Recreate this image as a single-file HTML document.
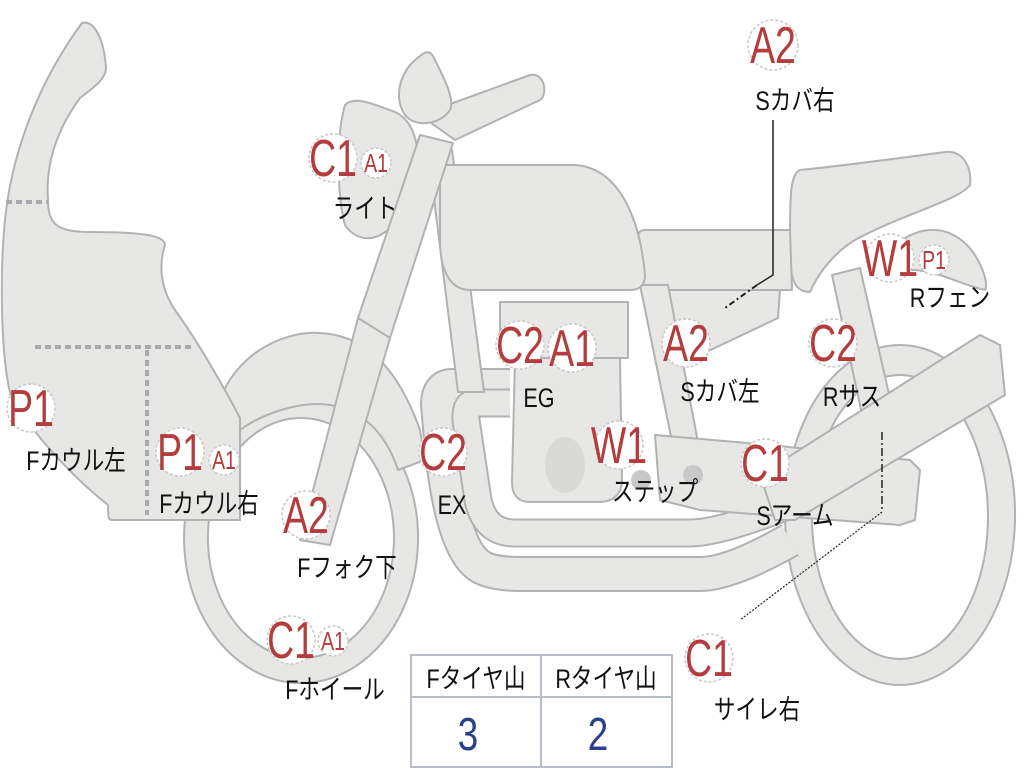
<!DOCTYPE html>
<html><head><meta charset="utf-8"><style>
html,body{margin:0;padding:0;background:#fff;}
svg{display:block}
.s{fill:#e7e7e5;stroke:#b2b2b2;stroke-width:2;stroke-linejoin:round}
text{font-family:"Liberation Sans","Noto Sans CJK JP",sans-serif;text-anchor:middle;transform-box:fill-box;transform-origin:center;}
.b{fill:#b43c3c;font-size:52px;transform:scaleX(.72)}
.m{fill:#b43c3c;font-size:26px;transform:scaleX(.75)}
.l{fill:#111;font-size:27px;transform:scaleX(.8)}
.c{fill:#fff;stroke:#c8c8c8;stroke-width:1.5;stroke-dasharray:3 2}
.v{fill:#2b3f8f;font-size:46px;transform:scaleX(.8)}
</style></head><body>
<svg width="1024" height="768" viewBox="0 0 1024 768" xmlns="http://www.w3.org/2000/svg">
<!-- rear wheel -->
<path class="s" fill-rule="evenodd" d="M900,345 a115,170 0 1,0 0.1,0 Z M900,375 a88,142 0 1,1 -0.1,0 Z"/>
<!-- front wheel -->
<path class="s" fill-rule="evenodd" d="M301,393 a117,145 0 1,0 0.1,0 Z M301,418 a93,120 0 1,1 -0.1,0 Z"/>
<!-- front fender -->
<path class="s" d="M215,420 C225,355 285,330 320,333 C360,335 395,360 420,430 L425,460 L398,470 C385,430 360,410 330,405 C300,400 260,415 240,430 Z"/>
<!-- cowl -->
<path class="s" d="M82,23 C95,20 104,40 106,68 C106,80 90,90 80,98 C60,125 45,160 48,200 C48,225 58,232 90,232 C140,232 165,235 165,245 C160,260 158,285 175,310 C200,345 220,380 240,418 L240,520 L112,520 C108,520 108,516 108,505 C70,475 35,435 12,400 C0,360 0,270 5,220 C12,150 40,80 82,23 Z"/>
<g stroke="#aaaaae" stroke-width="4" stroke-dasharray="6 4" fill="none">
<line x1="6" y1="202" x2="48" y2="202"/><line x1="35" y1="347" x2="192" y2="347"/><line x1="147" y1="350" x2="147" y2="515"/></g>
<!-- rear suspension -->
<polygon class="s" points="832,275 860,268 895,420 865,428"/>
<!-- rear fender -->
<path class="s" d="M890,250 C920,220 955,225 975,255 C985,272 988,285 985,290 C960,285 935,268 905,270 Z"/>
<!-- rear seat -->
<path class="s" d="M800,170 C850,165 900,158 945,152 C965,150 972,170 970,185 C960,200 900,215 855,240 C830,255 815,280 810,292 C790,292 790,270 790,240 C790,195 790,175 800,170 Z"/>
<!-- seat front / side panel -->
<path class="s" d="M645,230 L790,230 L792,290 L645,290 C640,290 638,285 638,280 L638,238 C638,232 641,230 645,230 Z"/>
<polygon class="s" points="668,290 780,290 778,318 700,355 675,345"/>
<!-- exhaust pipes -->
<path d="M510,386 L452,386 Q438,386 438,405 L442,450 Q452,545 478,565 Q490,574 520,574 L700,574 Q730,574 790,540" fill="none" stroke="#b2b2b2" stroke-width="36" stroke-linejoin="round"/>
<path d="M510,386 L452,386 Q438,386 438,405 L442,450 Q452,545 478,565 Q490,574 520,574 L700,574 Q730,574 790,540" fill="none" stroke="#e7e7e5" stroke-width="32" stroke-linejoin="round"/>
<path d="M510,403 L475,403 Q465,403 466,420 L478,500 Q485,533 515,533 L690,533 Q720,533 790,505" fill="none" stroke="#b2b2b2" stroke-width="29" stroke-linejoin="round"/>
<path d="M510,403 L475,403 Q465,403 466,420 L478,500 Q485,533 515,533 L690,533 Q720,533 790,505" fill="none" stroke="#e7e7e5" stroke-width="25" stroke-linejoin="round"/>
<!-- frame tube front -->
<polygon class="s" points="428,150 452,150 484,392 458,392"/>
<!-- engine -->
<path class="s" d="M500,302 L628,302 L628,358 L500,358 Z"/>
<path class="s" d="M515,358 L620,358 L622,480 C622,495 612,502 600,502 L530,502 C518,502 512,495 512,482 Z"/>
<ellipse cx="565" cy="465" rx="20" ry="28" fill="#d9d9d8"/>
<!-- rear frame tube -->
<polygon class="s" points="640,285 668,285 710,505 685,505"/>
<!-- step bar -->
<polygon class="s" points="655,435 770,445 910,460 920,470 915,520 900,525 700,510 660,500"/>
<circle cx="641" cy="480" r="10" fill="#c8c8c8"/><circle cx="693" cy="475" r="10" fill="#c8c8c8"/>
<!-- swingarm -->
<polygon class="s" points="760,475 980,335 1000,345 1005,395 795,520 775,520"/>
<!-- tank -->
<path class="s" d="M445,165 L575,165 C620,168 640,220 645,275 C645,285 640,290 630,290 L470,290 C450,290 440,270 440,240 L440,175 C440,168 442,165 445,165 Z"/>
<!-- handlebar -->
<path class="s" d="M420,115 L530,75 C545,72 548,95 540,100 L455,140 Z"/>
<path class="s" d="M410,65 C425,50 430,48 435,60 C445,80 455,100 450,110 C440,125 415,128 405,115 C395,100 398,80 410,65 Z"/>
<!-- headlight -->
<path class="s" d="M345,105 C355,95 375,105 395,112 C412,120 420,140 418,175 C415,205 405,220 385,232 C372,242 355,240 345,225 C338,200 335,140 345,105 Z"/>
<!-- fork -->
<polygon class="s" points="420,135 453,143 390,338 358,318"/>
<polygon class="s" points="358,318 390,338 330,545 300,540"/>
<!-- leader lines -->
<polyline points="773,120 773,275 757,285" fill="none" stroke="#222" stroke-width="1.5"/>
<line x1="757" y1="285" x2="725" y2="308" stroke="#222" stroke-width="2" stroke-dasharray="6 3 2 3"/>
<line x1="882" y1="432" x2="882" y2="512" stroke="#222" stroke-width="1.5" stroke-dasharray="8 3 2 3"/>
<line x1="882" y1="512" x2="740" y2="620" stroke="#222" stroke-width="1.2" stroke-dasharray="2 1.5"/>
<!-- badges -->
<g>
<circle class="c" cx="773" cy="45" r="25"/><text class="b" x="773" y="63">A2</text>
<circle class="c" cx="333" cy="158" r="24"/><text class="b" x="333" y="176">C1</text>
<circle class="c" cx="376" cy="163" r="15"/><text class="m" x="376" y="172">A1</text>
<circle class="c" cx="890" cy="258" r="24"/><text class="b" x="890" y="276">W1</text>
<circle class="c" cx="934" cy="260" r="15"/><text class="m" x="934" y="269">P1</text>
<circle class="c" cx="520" cy="345" r="24"/><text class="b" x="520" y="363">C2</text>
<circle class="c" cx="572" cy="348" r="24"/><text class="b" x="572" y="366">A1</text>
<circle class="c" cx="686" cy="343" r="24"/><text class="b" x="686" y="361">A2</text>
<circle class="c" cx="833" cy="343" r="24"/><text class="b" x="833" y="361">C2</text>
<circle class="c" cx="31" cy="408" r="24"/><text class="b" x="31" y="426">P1</text>
<circle class="c" cx="180" cy="452" r="24"/><text class="b" x="180" y="470">P1</text>
<circle class="c" cx="224" cy="460" r="15"/><text class="m" x="224" y="469">A1</text>
<circle class="c" cx="443" cy="452" r="24"/><text class="b" x="443" y="470">C2</text>
<circle class="c" cx="619" cy="445" r="24"/><text class="b" x="619" y="463">W1</text>
<circle class="c" cx="765" cy="463" r="24"/><text class="b" x="765" y="481">C1</text>
<circle class="c" cx="306" cy="515" r="24"/><text class="b" x="306" y="533">A2</text>
<circle class="c" cx="291" cy="640" r="24"/><text class="b" x="291" y="658">C1</text>
<circle class="c" cx="333" cy="641" r="15"/><text class="m" x="333" y="650">A1</text>
<circle class="c" cx="709" cy="658" r="24"/><text class="b" x="709" y="676">C1</text>
</g>
<g>
<text class="l" x="795" y="110">Sカバ右</text>
<text class="l" x="365" y="218">ライト</text>
<text class="l" x="950" y="307">Rフェン</text>
<text class="l" x="539" y="407">EG</text>
<text class="l" x="720" y="401">Sカバ左</text>
<text class="l" x="852" y="406">Rサス</text>
<text class="l" x="76" y="470">Fカウル左</text>
<text class="l" x="209" y="513">Fカウル右</text>
<text class="l" x="452" y="514">EX</text>
<text class="l" x="655" y="501">ステップ</text>
<text class="l" x="795" y="525">Sアーム</text>
<text class="l" x="347" y="577">Fフォク下</text>
<text class="l" x="335" y="699">Fホイール</text>
<text class="l" x="757" y="719">サイレ右</text>
</g>
<!-- table -->
<rect x="411" y="655" width="261" height="112" fill="#fff" stroke="#b8bcc8" stroke-width="2"/>
<line x1="411" y1="697" x2="672" y2="697" stroke="#b8bcc8" stroke-width="2"/>
<line x1="541" y1="655" x2="541" y2="767" stroke="#b8bcc8" stroke-width="2"/>
<text class="l" x="476" y="688">Fタイヤ山</text>
<text class="l" x="606" y="688">Rタイヤ山</text>
<text class="v" x="468" y="750">3</text>
<text class="v" x="598" y="750">2</text>
</svg>
</body></html>
